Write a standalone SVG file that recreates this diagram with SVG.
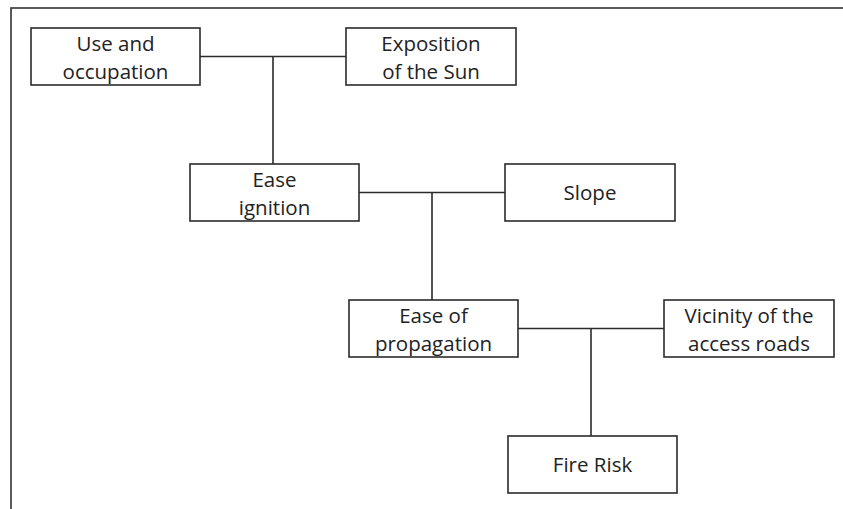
<svg xmlns="http://www.w3.org/2000/svg" width="843" height="509" viewBox="0 0 843 509">
<style>
.box{fill:#fff;stroke:#2b2b2b;stroke-width:1.6}
.frame{fill:none;stroke:#333;stroke-width:1.6}
.con{stroke:#2b2b2b;stroke-width:1.6;fill:none}
text{font-family:"Open Sans","Liberation Sans",sans-serif;font-size:20.5px;fill:#222;text-anchor:middle}
</style>
<rect x="0" y="0" width="843" height="509" fill="#fff"/>
<rect class="frame" x="11" y="8" width="850" height="520"/>
<g id="connectors">
<path class="con" d="M200 56.5H346M273 56.5V164"/>
<path class="con" d="M359 192.5H505M432 192.5V300"/>
<path class="con" d="M518 328.5H664M591 328.5V436"/>
</g>
<g id="use-occupation"><rect class="box" x="31" y="28" width="169" height="57"/><text x="115.5" y="51">Use and</text><text x="115.5" y="79">occupation</text></g>
<g id="exposition-sun"><rect class="box" x="346" y="28" width="170" height="57"/><text x="431" y="51">Exposition</text><text x="431" y="79">of the Sun</text></g>
<g id="ease-ignition"><rect class="box" x="190" y="164" width="169" height="57"/><text x="274.5" y="187">Ease</text><text x="274.5" y="215">ignition</text></g>
<g id="slope"><rect class="box" x="505" y="164" width="170" height="57"/><text x="590" y="199.5">Slope</text></g>
<g id="ease-propagation"><rect class="box" x="349" y="300" width="169" height="57"/><text x="433.5" y="323">Ease of</text><text x="433.5" y="351">propagation</text></g>
<g id="vicinity-roads"><rect class="box" x="664" y="300" width="170" height="57"/><text x="749" y="323">Vicinity of the</text><text x="749" y="351">access roads</text></g>
<g id="fire-risk"><rect class="box" x="508" y="436" width="169" height="57"/><text x="592.5" y="471.5">Fire Risk</text></g>
</svg>
